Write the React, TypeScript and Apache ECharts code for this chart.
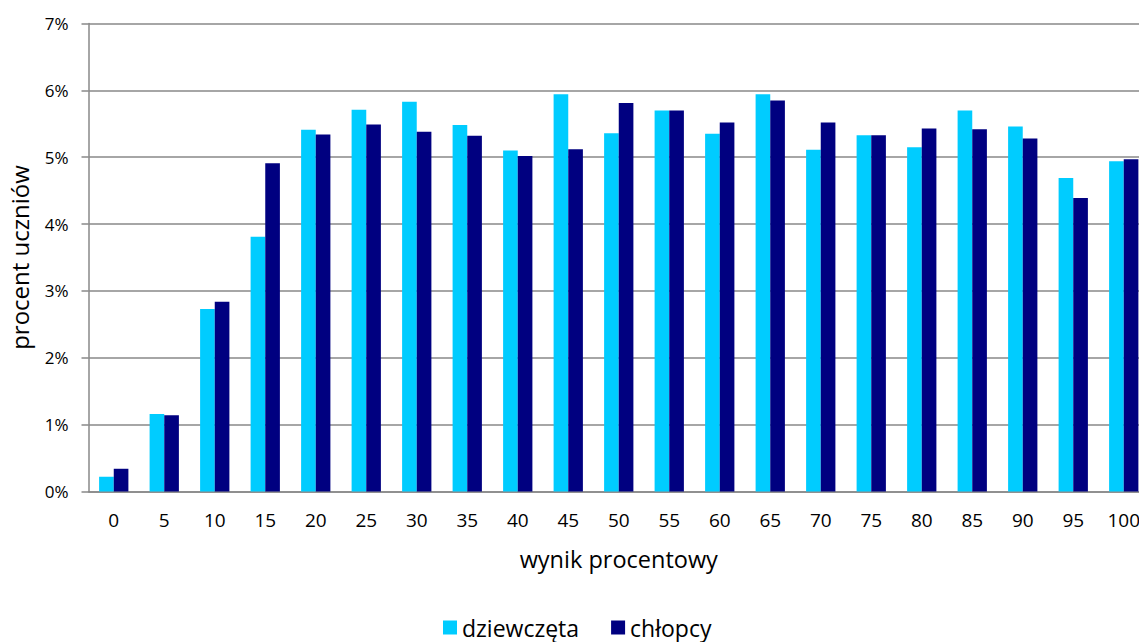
import React, { useEffect, useRef } from "react";
import * as echarts from "echarts";

const categories = ["0", "5", "10", "15", "20", "25", "30", "35", "40", "45", "50", "55", "60", "65", "70", "75", "80", "85", "90", "95", "100"];
const girls = [0.22, 1.16, 2.73, 3.81, 5.41, 5.71, 5.83, 5.48, 5.10, 5.94, 5.36, 5.70, 5.35, 5.94, 5.11, 5.33, 5.15, 5.70, 5.46, 4.69, 4.94];
const boys = [0.34, 1.14, 2.84, 4.91, 5.34, 5.49, 5.38, 5.32, 5.02, 5.12, 5.81, 5.70, 5.52, 5.85, 5.52, 5.33, 5.43, 5.42, 5.28, 4.39, 4.97];
const yTicks = { min: 0, max: 7, interval: 1 };
const seriesNames = ["dziewczęta", "chłopcy"];

const FONT = "'Open Sans', sans-serif";

export default function App() {
  const ref = useRef<HTMLDivElement>(null);
  useEffect(() => {
    if (!ref.current) return;
    const chart = echarts.init(ref.current, null, { renderer: "svg" });
    chart.setOption({
      animation: false,
      backgroundColor: "#ffffff",
      textStyle: { fontFamily: FONT, color: "#000" },
      grid: { left: 88.5, top: 23.5, width: 1060.5, height: 468, outerBoundsMode: "none", containLabel: false },
      legend: {
        data: seriesNames,
        left: 443,
        top: 616,
        padding: 0,
        itemWidth: 14,
        itemHeight: 14,
        itemGap: 32,
        icon: "rect",
        textStyle: { fontFamily: FONT, fontSize: 23, lineHeight: 20, color: "#000" },
      },
      xAxis: {
        type: "category",
        data: categories,
        name: "wynik procentowy",
        nameLocation: "middle",
        nameGap: 55,
        nameTextStyle: { fontFamily: FONT, fontSize: 23.5, color: "#000" },
        axisLine: { lineStyle: { color: "#888", width: 1.5 } },
        axisTick: { show: false },
        axisLabel: { fontFamily: FONT, fontSize: 19, color: "#000", margin: 19 },
      },
      yAxis: {
        type: "value",
        min: yTicks.min,
        max: yTicks.max,
        interval: yTicks.interval,
        name: "procent uczniów",
        nameLocation: "middle",
        nameGap: 58,
        nameTextStyle: { fontFamily: FONT, fontSize: 24, lineHeight: 22, color: "#000" },
        axisLine: { show: true, lineStyle: { color: "#888", width: 1.5 } },
        axisTick: { show: true, length: 7, lineStyle: { color: "#888", width: 1.5 } },
        splitLine: { show: true, lineStyle: { color: "#888", width: 1.5 } },
        axisLabel: { fontFamily: FONT, fontSize: 17, color: "#000", margin: 20, formatter: "{value}%" },
      },
      series: [
        {
          name: seriesNames[0],
          type: "bar",
          data: girls,
          barGap: "0%",
          barCategoryGap: "42%",
          itemStyle: { color: "#00CCFF" },
        },
        {
          name: seriesNames[1],
          type: "bar",
          data: boys,
          barGap: "0%",
          barCategoryGap: "42%",
          itemStyle: { color: "#000080" },
        },
      ],
    });
    return () => chart.dispose();
  }, []);
  return (
    <div
      ref={ref}
      style={{ position: "fixed", left: 0, top: 0, width: 1139, height: 642, background: "#fff" }}
    />
  );
}
